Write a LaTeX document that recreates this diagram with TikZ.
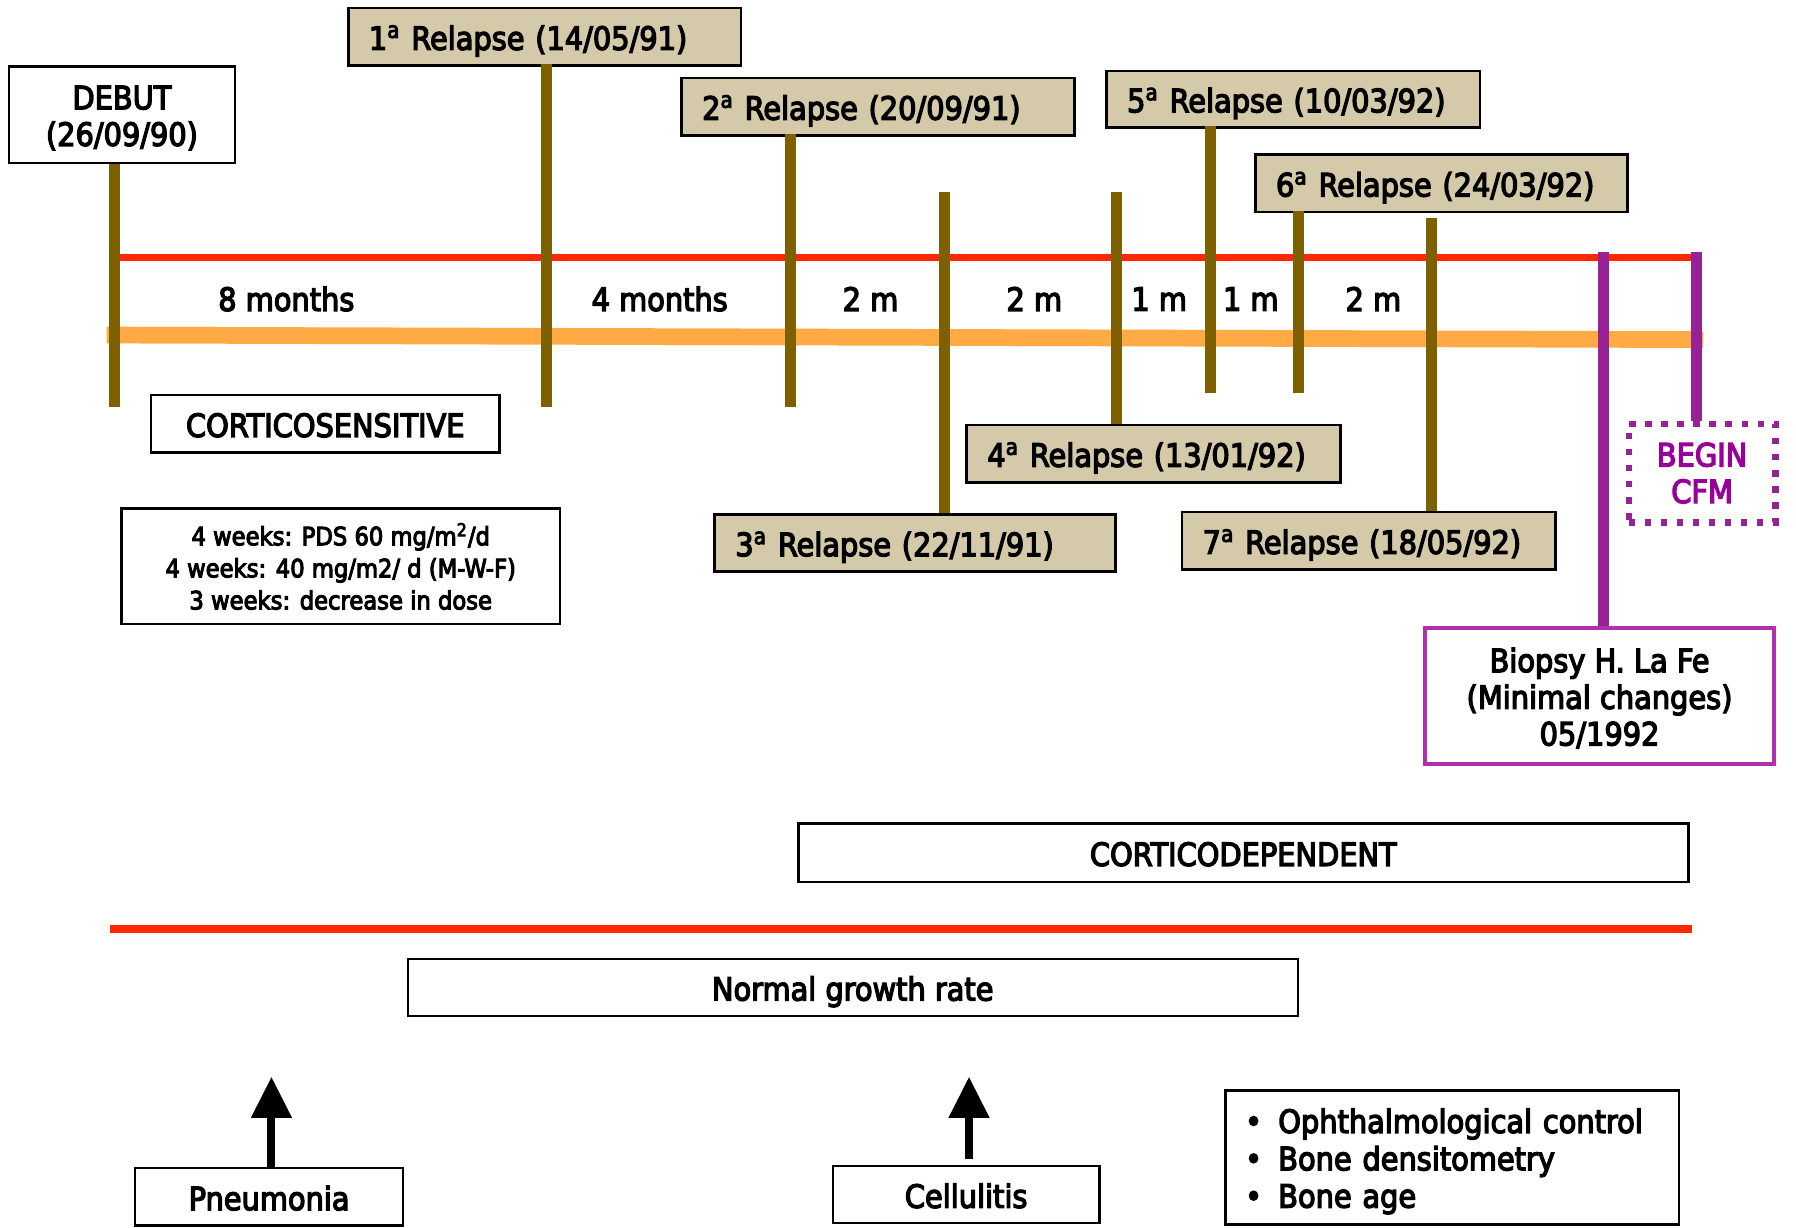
\documentclass[tikz,border=0pt]{standalone}
\usepackage{fontspec}
\setmainfont{DejaVu Sans Condensed}[FakeBold=4]
\usetikzlibrary{arrows.meta}
\definecolor{barbrown}{RGB}{127,96,0}
\definecolor{linered}{RGB}{255,40,0}
\definecolor{lineorange}{RGB}{255,170,68}
\definecolor{reltan}{RGB}{212,201,168}
\definecolor{barpurple}{RGB}{150,34,150}
\definecolor{boxpurple}{RGB}{176,48,176}
\definecolor{cfmpurple}{RGB}{153,0,153}
\newcommand{\topgap}[1]{\rule{0pt}{#1}}
\newcommand{\ord}[1]{#1\textsuperscript{a}}
\newcommand{\itm}{\makebox[12pt][l]{\kern-2.5pt\textbullet}}

\begin{document}
\begin{tikzpicture}[x=0.5pt,y=-0.5pt,
	every node/.style={font=\fontsize{14}{16}\selectfont},
	plainbox/.style={draw=black,line width=1pt,fill=white,minimum height=25pt,inner sep=0pt,align=center},
	oneline/.style={text height=12pt,text depth=0.5pt},
	relbox/.style={draw=black,line width=1.2pt,fill=reltan,minimum height=25pt,inner ysep=0pt,inner xsep=9pt,align=left,oneline},
	bar/.style={barbrown,line width=4.8pt},
	pbar/.style={barpurple,line width=5pt},
	fat/.style={line width=3.5pt,-{Triangle[width=17pt,length=18pt]}}]
	\useasboundingbox (0,0) rectangle (1568,1072);

	% boxes along the time line
	\node[plainbox,minimum width=98.5pt,minimum height=42pt] (debut) at (106.5,100) {\topgap{13.2pt}DEBUT\\(26/09/90)};
	\node[relbox,text width=153.5pt] (r1) at (475.5,32) {\ord{1} Relapse (14/05/91)};
	\node[relbox,text width=153.5pt] (r2) at (766.5,93) {\ord{2} Relapse (20/09/91)};
	\node[relbox,text width=157pt] (r3) at (799,474) {\ord{3} Relapse (22/11/91)};
	\node[relbox,text width=145pt] (r4) at (1007,396) {\ord{4} Relapse (13/01/92)};
	\node[relbox,text width=145pt,minimum height=24.5pt] (r5) at (1129,86.5) {\ord{5} Relapse (10/03/92)};
	\node[relbox,text width=144.5pt] (r6) at (1258.5,160) {\ord{6} Relapse (24/03/92)};
	\node[relbox,text width=145pt] (r7) at (1195,472) {\ord{7} Relapse (18/05/92)};
	\node[draw=barpurple,line width=2.8pt,dash pattern=on 2.8pt off 4.2pt,text=cfmpurple,minimum width=64pt,minimum height=43pt,inner sep=0pt,align=center] (cfm) at (1486,413) {BEGIN\\CFM};
	\node[plainbox,draw=boxpurple,line width=1.7pt,minimum width=152.5pt,minimum height=59.5pt] (biopsy) at (1396.5,607.5) {\topgap{12.6pt}Biopsy H. La Fe\\(Minimal changes)\\05/1992};

	\node[plainbox,oneline,minimum width=152pt] (sens) at (284,370) {CORTICOSENSITIVE};
	\node[plainbox,minimum width=191.5pt,minimum height=50.5pt,font=\fontsize{11}{14}\selectfont] (dose) at (297.5,494.5) {4 weeks: PDS 60 mg/m\textsuperscript{2}/d\\4 weeks: 40 mg/m2/ d (M-W-F)\\3 weeks: decrease in dose};
	\node[plainbox,oneline,minimum width=388.5pt,minimum height=25.5pt] (dep) at (1085.5,744.5) {CORTICODEPENDENT};
	\node[plainbox,oneline,minimum width=388.5pt] (growth) at (744.5,862) {Normal growth rate};
	\node[plainbox,oneline,minimum width=117pt] (pneu) at (235,1045) {Pneumonia};
	\node[plainbox,oneline,minimum width=116.5pt] (cell) at (843.5,1043) {Cellulitis};
	\node[plainbox,minimum width=198pt,minimum height=58.5pt,inner xsep=11pt,text width=176pt,align=left,font=\fontsize{14}{16.3}\selectfont] (ctrl) at (1268,1010.5) {\topgap{14.1pt}\itm Ophthalmological control\\\itm Bone densitometry\\\itm Bone age};

	% intervals
	\node at (250,261) {8 months};
	\node at (576,261) {4 months};
	\node at (760,261) {2 m};
	\node at (903,261) {2 m};
	\node at (1012,261) {1 m};
	\node at (1092,261) {1 m};
	\node at (1199,261) {2 m};

	\draw[linered,line width=3.2pt] (100,225) -- (1481,225);
	\draw[lineorange,line width=7.3pt] (93,292.5) -- (1487,296.5);
	\draw[linered,line width=3.2pt] (96,811) -- (1477,811);

	% free ends of the bars
	\coordinate (e0) at (100,355);
	\coordinate (e1) at (477,355);
	\coordinate (e2) at (690,355);
	\coordinate (e3) at (825,168);
	\coordinate (e4) at (975,168);
	\coordinate (e5) at (1057,343);
	\coordinate (e6) at (1134,343);
	\coordinate (e7) at (1250,190);
	\coordinate (p1) at (1400,220);
	\coordinate (p2) at (1481,220);

	\draw[bar] (debut.south -| e0) -- (e0);
	\draw[bar] ([yshift=1pt]r1.south -| e1) -- (e1);
	\draw[bar] ([yshift=1pt]r2.south -| e2) -- (e2);
	\draw[bar] (e3) -- (r3.north -| e3);
	\draw[bar] (e4) -- (r4.north -| e4);
	\draw[bar] ([yshift=1pt]r5.south -| e5) -- (e5);
	\draw[bar] ([yshift=1pt]r6.south -| e6) -- (e6);
	\draw[bar] (e7) -- (r7.north -| e7);
	\draw[pbar] (p1) -- (biopsy.north -| p1);
	\draw[pbar] (p2) -- (cfm.north -| p2);

	\coordinate (t1) at (237,940);
	\coordinate (t2) at (846,940);
	\draw[fat] (pneu.north -| t1) -- (t1);
	\draw[fat,shorten <=2.5pt] (cell.north -| t2) -- (t2);
\end{tikzpicture}
\end{document}
